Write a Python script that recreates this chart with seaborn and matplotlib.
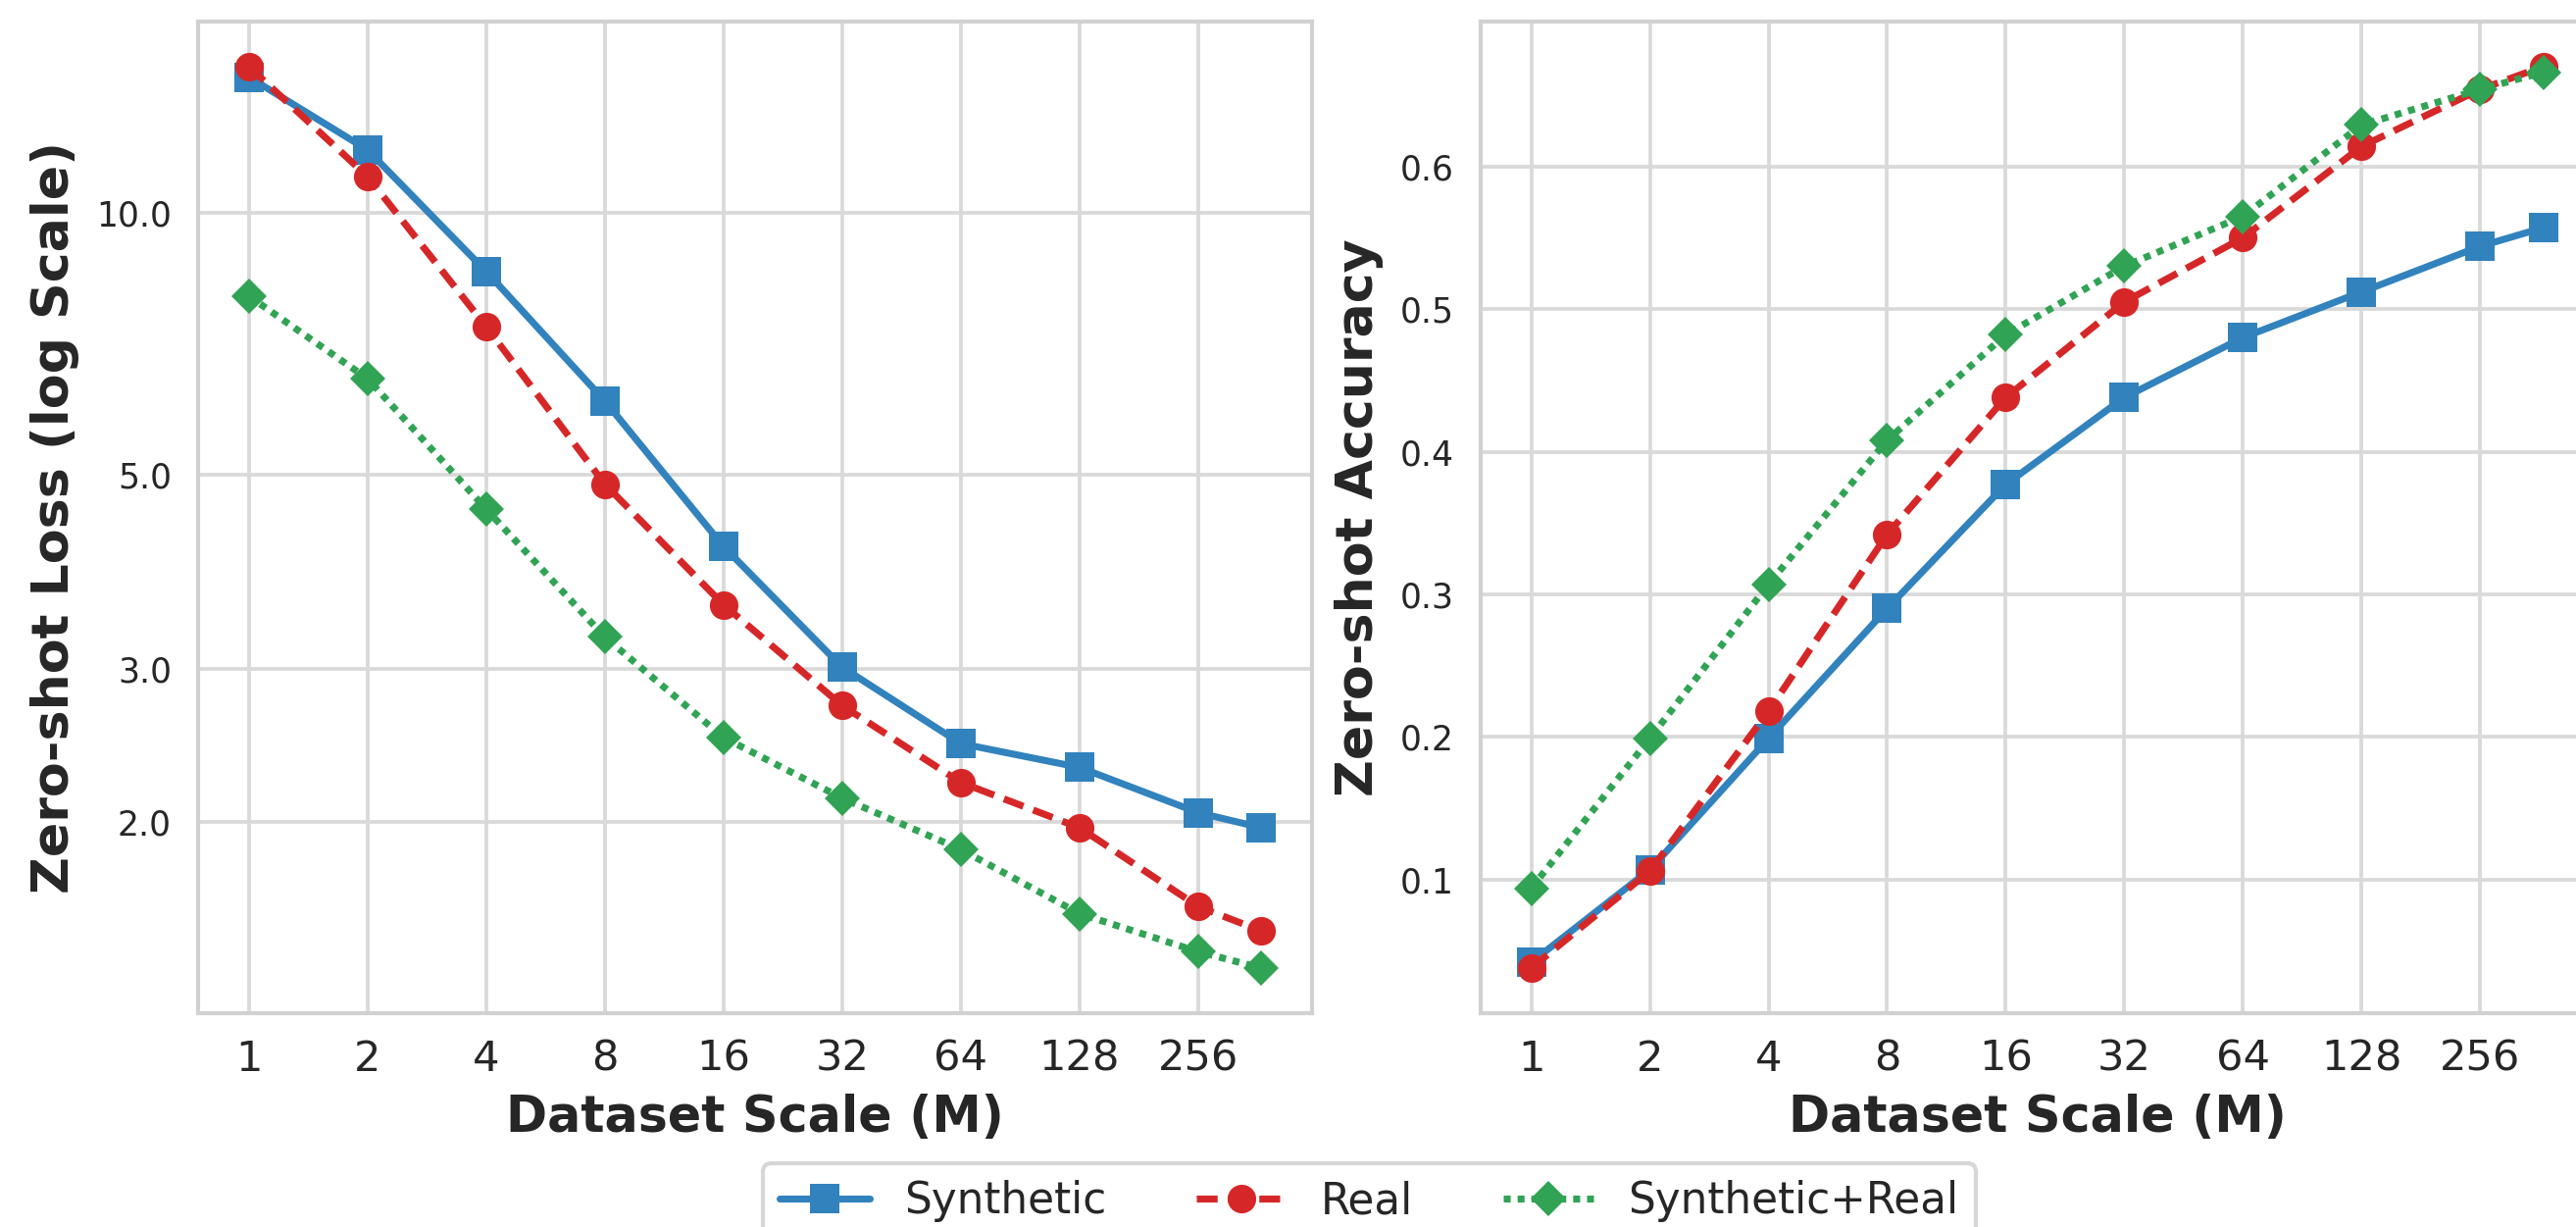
import numpy as np
import pandas as pd
import matplotlib
matplotlib.use("Agg")
import matplotlib.pyplot as plt
import seaborn as sns

# dataset scale in millions (last point is the full set, ~370M)
scale = [1, 2, 4, 8, 16, 32, 64, 128, 256, 370]
tick_vals = [1, 2, 4, 8, 16, 32, 64, 128, 256]

# zero-shot loss (log scale panel)
loss_syn = [14.3, 11.8, 8.56, 6.08, 4.14, 3.01, 2.46, 2.31, 2.05, 1.97]
loss_real = [14.7, 11.0, 7.40, 4.88, 3.55, 2.72, 2.22, 1.97, 1.60, 1.50]
loss_mix = [8.02, 6.45, 4.57, 3.26, 2.50, 2.13, 1.86, 1.57, 1.42, 1.36]

# zero-shot accuracy
acc_syn = [0.042, 0.107, 0.199, 0.290, 0.377, 0.438, 0.480, 0.512, 0.544, 0.557]
acc_real = [0.038, 0.106, 0.218, 0.342, 0.438, 0.505, 0.550, 0.614, 0.654, 0.670]
acc_mix = [0.094, 0.199, 0.307, 0.408, 0.482, 0.530, 0.565, 0.629, 0.654, 0.666]

labels = ["Synthetic", "Real", "Synthetic+Real"]
colors = ["#3182bd", "#d62728", "#31a354"]
markers = ["s", "o", "D"]
msizes = [7, 7, 6]
styles = ["-", (0, (3, 1.5)), (0, (1, 1))]

sns.set_theme(style="whitegrid")
plt.rcParams["axes.linewidth"] = 1.0
plt.rcParams["grid.linewidth"] = 0.9
plt.rcParams["axes.edgecolor"] = "0.82"
plt.rcParams["grid.color"] = "0.85"

fig = plt.figure(figsize=(2627 / 300, 1251 / 300), dpi=300)
ax1 = fig.add_axes([0.0769, 0.1743, 0.4324, 0.8082])
ax2 = fig.add_axes([0.5748, 0.1743, 0.4321, 0.8082])

panels = [
    (ax1, [loss_syn, loss_real, loss_mix], "Zero-shot Loss (log Scale)"),
    (ax2, [acc_syn, acc_real, acc_mix], "Zero-shot Accuracy"),
]

for ax, series, ylab in panels:
    for vals, lab, c, m, ms, ls in zip(series, labels, colors, markers, msizes, styles):
        df = pd.DataFrame({"scale": scale, "value": vals})
        sns.lineplot(data=df, x="scale", y="value", ax=ax, color=c, marker=m,
                     markersize=ms, linestyle=ls, linewidth=1.7,
                     markeredgewidth=0, label=lab, legend=False)
    ax.set_xscale("log", base=2)
    ax.set_xticks(tick_vals)
    ax.set_xticklabels([str(v) for v in tick_vals])
    ax.xaxis.set_minor_locator(matplotlib.ticker.NullLocator())
    ax.tick_params(axis="x", labelsize=10.4, pad=6.2, length=0)
    ax.tick_params(axis="y", labelsize=8.3, pad=6.5, length=0)
    ax.set_xlabel("Dataset Scale (M)", fontsize=12.2, fontweight="bold", labelpad=3.4)
    ax.set_ylabel(ylab, fontsize=12.5, fontweight="bold", labelpad=4)

ax1.set_yscale("log")
ax1.set_yticks([2, 3, 5, 10])
ax1.set_yticklabels(["2.0", "3.0", "5.0", "10.0"])
ax1.yaxis.set_minor_locator(matplotlib.ticker.NullLocator())

ax2.set_yticks([0.1, 0.2, 0.3, 0.4, 0.5, 0.6])
ax2.set_yticklabels(["0.1", "0.2", "0.3", "0.4", "0.5", "0.6"])

handles, labs = ax1.get_legend_handles_labels()
fig.legend(handles, labs, loc="upper center", bbox_to_anchor=(0.5315, 0.052),
           borderaxespad=0, ncol=3, fontsize=10.5, handlelength=2.1,
           columnspacing=2.1, handletextpad=0.8, frameon=True)

fig.savefig("out.png", dpi=300)
